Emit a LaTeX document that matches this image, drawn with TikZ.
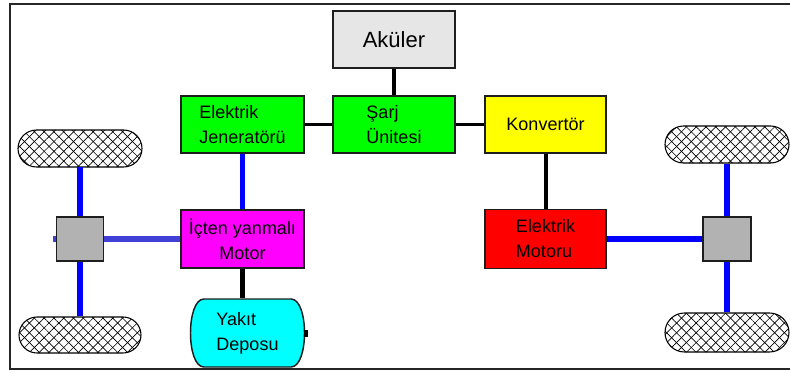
\documentclass[tikz,border=0pt]{standalone}
\usepackage{fontspec}
\setmainfont{Liberation Sans}
\usetikzlibrary{patterns.meta,shapes.misc}
\definecolor{akugray}{RGB}{230,230,230}
\definecolor{geargray}{RGB}{178,178,178}
\definecolor{linkblue}{RGB}{0,0,255}
\definecolor{softblue}{RGB}{64,64,215}
\definecolor{bordercol}{RGB}{30,30,30}
\definecolor{boxgreen}{RGB}{0,255,0}
\definecolor{boxyellow}{RGB}{255,255,0}
\definecolor{boxred}{RGB}{255,0,0}
\definecolor{boxmagenta}{RGB}{255,0,255}
\definecolor{boxcyan}{RGB}{0,255,255}
\def\u{0.75pt}
\tikzset{
  box/.style={draw=bordercol, line width=1.1pt, inner sep=0pt, align=left,
    font=\fontsize{13.5}{18.75}\selectfont},
  gearbox/.style={draw=bordercol, line width=1.1pt, fill=geargray, inner sep=0pt},
  tire/.style={rounded rectangle, draw=black, line width=0.8pt, inner sep=0pt,
    preaction={fill=white},
    preaction={pattern={Lines[angle=45,distance=5.2pt,line width=0.5pt]}},
    pattern={Lines[angle=-45,distance=5.2pt,line width=0.5pt]}},
  blk/.style={draw=black, line width=3pt},
  blu/.style={draw=linkblue, line width=4pt},
}
\begin{document}
\begin{tikzpicture}[x=0.75pt,y=-0.75pt]
\useasboundingbox (0,0) rectangle (790,372);
% frame
\draw[line width=1.5pt, black!85] (790,4) -- (10,4) -- (10,369) -- (790,369);

% boxes
\node[box, fill=akugray, minimum width=122*\u, minimum height=57*\u, align=center,
  font=\fontsize{16.5}{20}\selectfont] (aku) at (394,39.5) {Aküler};
\node[box, fill=boxgreen, minimum width=123*\u, minimum height=57*\u] (jen) at (242.5,124.5) {Elektrik\\Jeneratörü};
\node[box, fill=boxgreen, minimum width=122*\u, minimum height=57*\u] (sarj) at (394,124.5) {Şarj\\Ünitesi};
\node[box, fill=boxyellow, minimum width=121*\u, minimum height=57*\u] (konv) at (545.5,124.5) {Konvertör};
\node[box, fill=boxred, minimum width=121*\u, minimum height=59*\u] (emot) at (545.5,239) {Elektrik\\Motoru};
\node[box, fill=boxmagenta, minimum width=123*\u, minimum height=58*\u, align=center] (icten) at (242.5,239) {İçten yanmalı\\Motor};

% fuel tank outline
\draw[draw=bordercol, line width=1.1pt, fill=boxcyan]
  (204,299) -- (291,299) .. controls (309,299) and (309,367) .. (291,367)
  -- (204,367) .. controls (186,367) and (186,299) .. (204,299) -- cycle;
\fill[black] (304,329.5) rectangle (308,336.5);
\node[box, draw=none, minimum width=115*\u, minimum height=68*\u] (yakit) at (247.5,333) {Yakıt\\Deposu};

% gearboxes
\node[gearbox, minimum width=47*\u, minimum height=44*\u] (lgear) at (80,239) {};
\node[gearbox, minimum width=48*\u, minimum height=44*\u] (rgear) at (727,239) {};

% tires
\node[tire, minimum width=124*\u, minimum height=37*\u] (tlu) at (80,148.5) {};
\node[tire, minimum width=122*\u, minimum height=36*\u] (tll) at (80,335) {};
\node[tire, minimum width=124*\u, minimum height=37*\u] (tru) at (727,144.5) {};
\node[tire, minimum width=124*\u, minimum height=39*\u] (trl) at (727,332.5) {};

% black connectors
\draw[blk] (aku.south) -- (sarj.north);
\draw[blk, line width=2.6pt] (jen.east) -- (sarj.west);
\draw[blk, line width=2.6pt] (sarj.east) -- (konv.west);
\draw[blk] (konv.south) -- (emot.north);
\draw[blk, line width=4pt] (icten.south) -- (icten.south |- yakit.north);

% blue connectors
\draw[blu] (jen.south) -- (icten.north);
\draw[blu, draw=softblue] (lgear.east) -- (icten.west);
\draw[blu, draw=softblue] (lgear.west) -- ++(-2.5,0);
\draw[blu] (tlu.south) -- (lgear.north);
\draw[blu] (lgear.south) -- (tll.north);
\draw[blu, line width=4.5pt] (emot.east) -- (rgear.west);
\draw[blu] (tru.south) -- (rgear.north);
\draw[blu] (rgear.south) -- (trl.north);
\end{tikzpicture}
\end{document}
